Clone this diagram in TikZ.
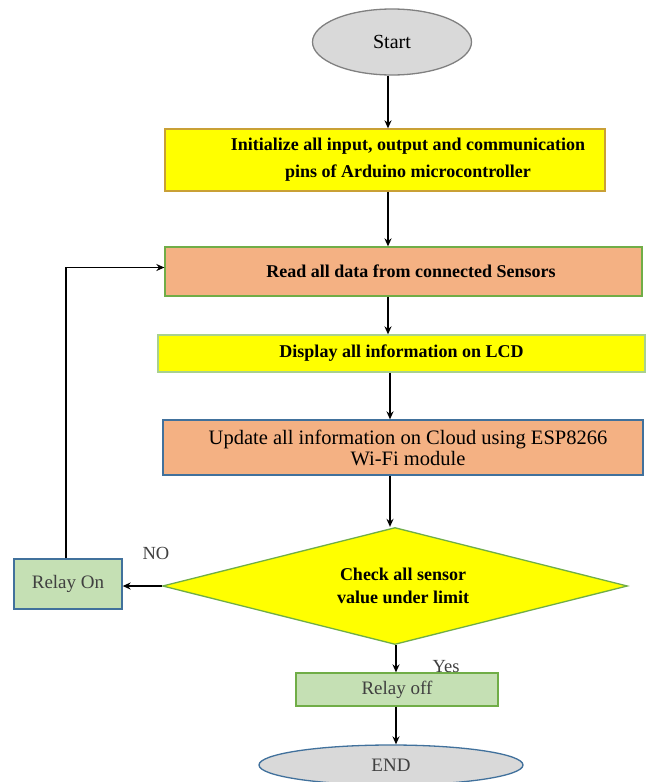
\documentclass[tikz,border=0pt]{standalone}
\usepackage{fontspec}
\setmainfont{Liberation Serif}
\usetikzlibrary{shapes.geometric,arrows.meta,calc}
\definecolor{yel}{HTML}{FFFF00}
\definecolor{salmon}{HTML}{F4B183}
\definecolor{lgreen}{HTML}{C5E0B4}
\definecolor{lgrey}{HTML}{D9D9D9}
\definecolor{gold}{HTML}{C9A035}
\definecolor{grn}{HTML}{70AD47}
\definecolor{lgrn}{HTML}{A9D18E}
\definecolor{blu}{HTML}{41719C}
\definecolor{txtgrey}{HTML}{404040}
\begin{document}
\begin{tikzpicture}[x=1pt,y=-1pt,
  box/.style={rectangle, draw, line width=1.3pt, inner sep=0pt, align=center},
  oval/.style={ellipse, draw, line width=1.3pt, inner sep=0pt, fill=lgrey},
  arr/.style={line width=1.4pt, -{Stealth[length=8pt,width=7pt]}},
  bt/.style={font=\fontsize{18}{23}\selectfont\bfseries},
  nt/.style={font=\fontsize{19}{22}\selectfont, text=txtgrey}
]
\useasboundingbox (0,0) rectangle (647,782);

\node[oval, draw=gray, minimum width=159pt, minimum height=66pt,
      font=\fontsize{20}{24}\selectfont] (start) at (392,42) {Start};

\node[box, fill=yel, draw=gold, minimum width=440pt, minimum height=62pt,
      bt, font=\fontsize{18}{27}\selectfont\bfseries] (init) at (385,160)
  {\hspace*{46pt}Initialize all input, output and communication\\
   \hspace*{46pt}pins of Arduino microcontroller};

\node[box, fill=salmon, draw=grn, minimum width=477pt, minimum height=49pt, bt]
  (read) at (403.5,271.5) {\hspace*{15pt}Read all data from connected Sensors};

\node[box, fill=yel, draw=lgrn, minimum width=487pt, minimum height=37pt, bt]
  (disp) at (401.5,353.5) {\raisebox{5pt}{Display all information on LCD}};

\node[box, fill=salmon, draw=blu, minimum width=480pt, minimum height=55pt,
      font=\fontsize{20.5}{21}\selectfont]
  (upd) at (403,447.5) {\hspace*{10pt}Update all information on Cloud using ESP8266\\
   \hspace*{10pt}Wi-Fi module};

\node[diamond, aspect=3.97, draw=grn, fill=yel, line width=1.3pt, inner sep=0pt,
      minimum width=465pt, minimum height=117pt, align=center, bt]
  (dia) at (395,586) {\hspace*{16pt}Check all sensor\\\hspace*{16pt}value under limit};

\node[box, fill=lgreen, draw=blu, minimum width=108pt, minimum height=50pt, nt]
  (ron) at (68,584) {\raisebox{5pt}{Relay On}};

\node[box, fill=lgreen, draw=grn, minimum width=202pt, minimum height=33pt, nt]
  (roff) at (397,689.5) {Relay off};

\node[oval, draw=blu, minimum width=264pt, minimum height=40pt, nt]
  (endn) at (391,765) {END};

\coordinate (ax1) at (388,0);
\coordinate (ax2) at (390,0);
\coordinate (ax3) at (396,0);

\draw[arr] (start.south -| ax1) -- (init.north -| ax1);
\draw[arr] (init.south -| ax1) -- (read.north -| ax1);
\draw[arr] (read.south -| ax1) -- (disp.north -| ax1);
\draw[arr] (disp.south -| ax2) -- (upd.north -| ax2);
\draw[arr] (upd.south -| ax2) -- (dia.north -| ax2);
\draw[arr] (dia.south -| ax3) -- (roff.north -| ax3);
\draw[arr] (roff.south -| ax3) -- (endn.north -| ax3);
\draw[arr] (dia.west) -- (dia.west -| ron.east);
\draw[arr] (ron.north -| 66,0) |- ([yshift=4pt]read.west);

\node[font=\fontsize{18.5}{20}\selectfont, text=txtgrey] (no) at (156,553) {NO};
\node[font=\fontsize{18.5}{20}\selectfont, text=txtgrey] (yes) at (446,667) {Yes};
\end{tikzpicture}
\end{document}
